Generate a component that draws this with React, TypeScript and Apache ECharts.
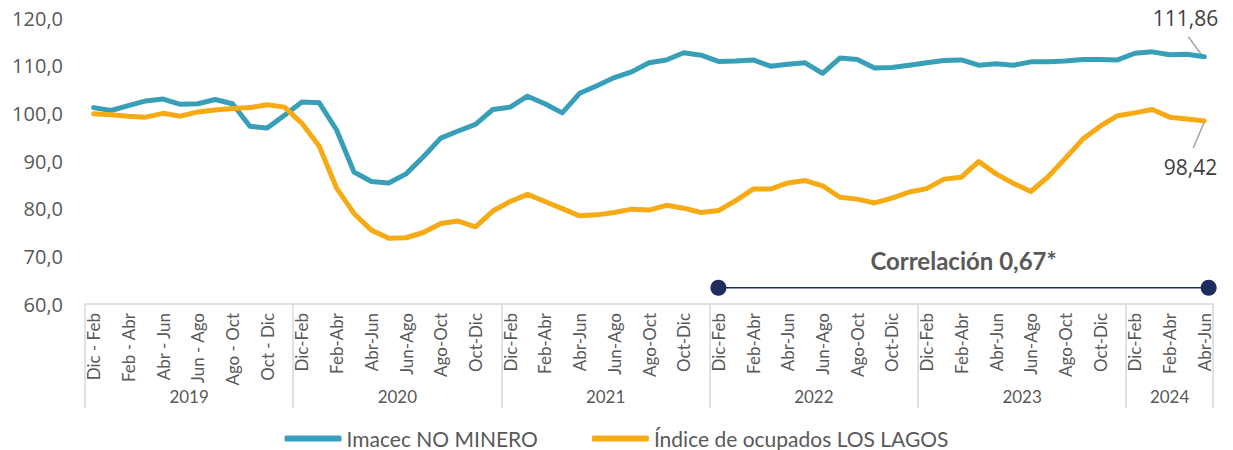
import React, { useEffect, useRef } from "react";
import * as echarts from "echarts";

const years = ["2019", "2020", "2021", "2022", "2023", "2024"];
const monthsPerYear = [12, 12, 12, 12, 12, 5];
const periods2019 = ["Dic - Feb", "Ene - Mar", "Feb - Abr", "Mar - May", "Abr - Jun", "May - Jul", "Jun - Ago", "Jul - Sep", "Ago - Oct", "Sep - Nov", "Oct - Dic", "Nov - Ene"];
const periods = ["Dic-Feb", "Ene-Mar", "Feb-Abr", "Mar-May", "Abr-Jun", "May-Jul", "Jun-Ago", "Jul-Sep", "Ago-Oct", "Sep-Nov", "Oct-Dic", "Nov-Ene"];

const imacecNoMinero = [
  101.2, 100.6, 101.6, 102.6, 103.0, 101.9, 102.0, 102.9, 102.0, 97.3, 96.9, 99.6,
  102.4, 102.2, 96.5, 87.7, 85.7, 85.4, 87.3, 90.9, 94.8, 96.3, 97.7, 100.8,
  101.3, 103.6, 102.0, 100.1, 104.2, 105.8, 107.5, 108.7, 110.6, 111.2, 112.7, 112.2,
  110.9, 111.0, 111.2, 109.9, 110.3, 110.6, 108.4, 111.6, 111.3, 109.5, 109.6, 110.1,
  110.6, 111.1, 111.2, 110.1, 110.4, 110.1, 110.8, 110.8, 111.0, 111.3, 111.3, 111.2,
  112.6, 112.9, 112.3, 112.4, 111.86,
];

const ocupadosLosLagos = [
  99.9, 99.7, 99.4, 99.2, 100.0, 99.4, 100.3, 100.7, 101.0, 101.2, 101.8, 101.3,
  97.9, 93.1, 84.3, 79.0, 75.5, 73.8, 73.9, 75.0, 76.9, 77.4, 76.2, 79.5,
  81.5, 83.0, 81.5, 80.0, 78.5, 78.7, 79.2, 79.9, 79.7, 80.7, 80.1, 79.2,
  79.6, 81.7, 84.1, 84.1, 85.4, 85.9, 84.8, 82.4, 82.0, 81.2, 82.2, 83.5,
  84.2, 86.2, 86.6, 89.9, 87.3, 85.3, 83.6, 86.7, 90.6, 94.6, 97.3, 99.5,
  100.1, 100.8, 99.2, 98.8, 98.42,
];

const yTicks = [60, 70, 80, 90, 100, 110, 120];
const correlationText = "Correlación 0,67*";
const correlationStartIndex = 36;

const categories: string[] = [];
years.forEach((y, yi) => {
  for (let m = 0; m < monthsPerYear[yi]; m++) {
    const p = yi === 0 ? periods2019[m] : periods[m];
    categories.push(y + "|" + p);
  }
});

const yearBoundaries: number[] = [0];
monthsPerYear.forEach((n, i) => yearBoundaries.push(yearBoundaries[i] + n));
const yearCenters = monthsPerYear.map((n, i) => yearBoundaries[i] + n / 2);

const BLUE = "#37A0B8";
const ORANGE = "#F6AA14";
const NAVY = "#1E2C5E";
const TEXT = "#595959";
const FONT = "Lato";
const NUMFONT = "'Open Sans'";

const fmt = (v: number, d: number) => v.toFixed(d).replace(".", ",");

export default function App() {
  const ref = useRef<HTMLDivElement>(null);
  useEffect(() => {
    const chart = echarts.init(ref.current!, undefined, { renderer: "svg" });
    chart.setOption({
      animation: false,
      textStyle: { fontFamily: FONT },
      grid: { left: 85, right: 20, top: 18, bottom: 146, containLabel: false },
      legend: {
        data: ["Imacec NO MINERO", "Índice de ocupados LOS LAGOS"],
        left: "center",
        top: 423,
        icon: "roundRect",
        itemWidth: 57,
        itemHeight: 6,
        itemGap: 54,
        textStyle: { fontSize: 21, color: TEXT, fontFamily: FONT },
      },
      xAxis: [
        {
          type: "category",
          data: categories,
          boundaryGap: true,
          axisLine: { show: true, lineStyle: { color: "#D9D9D9", width: 1.5 } },
          axisTick: { show: false },
          axisLabel: {
            interval: 1,
            rotate: 90,
            margin: 9,
            fontSize: 17,
            color: TEXT,
            fontFamily: FONT,
            formatter: (v: string) => v.split("|")[1],
          },
          splitLine: { show: false },
        },
        {
          type: "value",
          min: 0,
          max: yearBoundaries[yearBoundaries.length - 1],
          position: "bottom",
          offset: 0,
          axisLine: { show: false },
          axisTick: {
            show: true,
            customValues: yearBoundaries,
            length: 104,
            lineStyle: { color: "#D9D9D9", width: 1.5 },
          },
          axisLabel: {
            show: true,
            customValues: yearCenters,
            margin: 84,
            fontSize: 17,
            color: TEXT,
            fontFamily: FONT,
            formatter: (v: number) => {
              const i = yearCenters.findIndex((c) => Math.abs(c - v) < 0.01);
              return i >= 0 ? years[i] : "";
            },
          },
          splitLine: { show: false },
        },
      ],
      yAxis: {
        type: "value",
        min: yTicks[0],
        max: yTicks[yTicks.length - 1],
        interval: 10,
        axisLine: { show: false },
        axisTick: { show: false },
        splitLine: { show: false },
        axisLabel: {
          fontSize: 20,
          color: TEXT,
          margin: 22,
          fontFamily: NUMFONT,
          formatter: (v: number) => fmt(v, 1),
        },
      },
      series: [
        {
          name: "Imacec NO MINERO",
          type: "line",
          xAxisIndex: 0,
          data: imacecNoMinero,
          showSymbol: false,
          symbol: "none",
          lineStyle: { color: BLUE, width: 5, join: "round", cap: "round" },
          itemStyle: { color: BLUE },
        },
        {
          name: "Índice de ocupados LOS LAGOS",
          type: "line",
          xAxisIndex: 0,
          data: ocupadosLosLagos,
          showSymbol: false,
          symbol: "none",
          lineStyle: { color: ORANGE, width: 5, join: "round", cap: "round" },
          itemStyle: { color: ORANGE },
        },
      ],
    });

    const last = categories.length - 1;
    const pB = chart.convertToPixel({ xAxisIndex: 0, yAxisIndex: 0 }, [last, imacecNoMinero[last]]) as number[];
    const pO = chart.convertToPixel({ xAxisIndex: 0, yAxisIndex: 0 }, [last, ocupadosLosLagos[last]]) as number[];
    const yCorr = chart.convertToPixel({ yAxisIndex: 0 }, 63.4) as number;
    const xCorr0 = chart.convertToPixel({ xAxisIndex: 1 }, correlationStartIndex + 0.5) as number;
    const xCorr1 = chart.convertToPixel({ xAxisIndex: 1 }, yearBoundaries[yearBoundaries.length - 1] - 0.25) as number;

    chart.setOption({
      graphic: [
        { type: "line", shape: { x1: pB[0] - 2, y1: pB[1] - 1, x2: pB[0] - 16, y2: pB[1] - 20 }, style: { stroke: "#A6A6A6", lineWidth: 1.5 } },
        { type: "text", x: pB[0] + 14, y: pB[1] - 39, style: { text: fmt(imacecNoMinero[last], 2), fill: "#404040", font: `21px ${NUMFONT}`, align: "right", verticalAlign: "middle" } },
        { type: "line", shape: { x1: pO[0], y1: pO[1] + 1, x2: pO[0] - 11, y2: pO[1] + 27 }, style: { stroke: "#A6A6A6", lineWidth: 1.5 } },
        { type: "text", x: pO[0] + 13, y: pO[1] + 46, style: { text: fmt(ocupadosLosLagos[last], 2), fill: "#404040", font: `21px ${NUMFONT}`, align: "right", verticalAlign: "middle" } },
        { type: "line", shape: { x1: xCorr0, y1: yCorr, x2: xCorr1, y2: yCorr }, style: { stroke: NAVY, lineWidth: 1.5 } },
        { type: "circle", shape: { cx: xCorr0, cy: yCorr, r: 8 }, style: { fill: NAVY } },
        { type: "circle", shape: { cx: xCorr1, cy: yCorr, r: 8 }, style: { fill: NAVY } },
        { type: "text", x: (xCorr0 + xCorr1) / 2, y: yCorr - 27, style: { text: correlationText, fill: TEXT, font: `bold 24px ${FONT}`, align: "center", verticalAlign: "middle" } },
      ],
    });

    return () => chart.dispose();
  }, []);
  return <div ref={ref} style={{ position: "absolute", left: 0, top: 0, width: 1233, height: 450 }} />;
}
